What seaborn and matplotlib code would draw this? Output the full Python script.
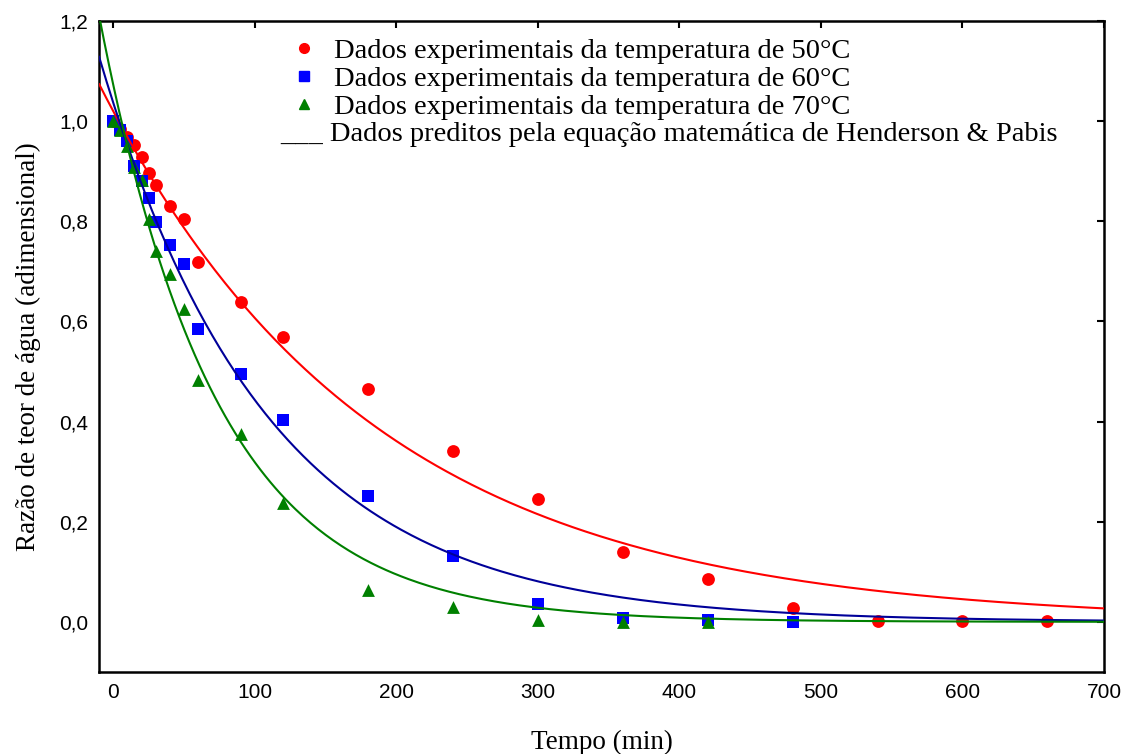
import numpy as np
import pandas as pd
import matplotlib
matplotlib.use("Agg")
import matplotlib.pyplot as plt
from matplotlib.lines import Line2D
from matplotlib.ticker import FuncFormatter
import seaborn as sns

# ------------------------------------------------------------------
# DADOS
# ------------------------------------------------------------------
TEMPO_50 = [0, 5, 10, 15, 20, 25, 30, 40, 50, 60, 90, 120, 180, 240, 300, 360, 420, 480, 540, 600, 660]
RU_50 = [1.0, 0.985, 0.968, 0.953, 0.929, 0.896, 0.872, 0.830, 0.804, 0.719, 0.638, 0.569,
         0.465, 0.342, 0.246, 0.139, 0.085, 0.028, 0.002, 0.002, 0.002]

TEMPO_60 = [0, 5, 10, 15, 20, 25, 30, 40, 50, 60, 90, 120, 180, 240, 300, 360, 420, 480]
RU_60 = [1.0, 0.983, 0.960, 0.911, 0.881, 0.846, 0.799, 0.753, 0.715, 0.584, 0.496, 0.404,
         0.251, 0.132, 0.035, 0.008, 0.004, 0.0]

TEMPO_70 = [0, 5, 10, 15, 20, 25, 30, 40, 50, 60, 90, 120, 180, 240, 300, 360, 420]
RU_70 = [1.0, 0.982, 0.950, 0.908, 0.882, 0.805, 0.741, 0.694, 0.624, 0.484, 0.375, 0.237,
         0.064, 0.029, 0.003, 0.0, 0.0]

# Henderson & Pabis: RU = a * exp(-k * t)
TEMPERATURAS = ["50", "60", "70"]
COEF_A = [1.020, 1.037, 1.073]
COEF_K = [0.00519, 0.00850, 0.01213]

Y_TICKS = [0.0, 0.2, 0.4, 0.6, 0.8, 1.0, 1.2]
X_TICKS = [0, 100, 200, 300, 400, 500, 600, 700]

COR_PONTO = {"50": "#ff0000", "60": "#0000ff", "70": "#008000"}
COR_LINHA = {"50": "#ff0000", "60": "#000099", "70": "#008000"}
MARCADOR = {"50": "o", "60": "s", "70": "^"}

# ------------------------------------------------------------------
# TABELAS
# ------------------------------------------------------------------
exp_df = pd.concat([
    pd.DataFrame({"tempo": TEMPO_50, "ru": RU_50, "temp": "50"}),
    pd.DataFrame({"tempo": TEMPO_60, "ru": RU_60, "temp": "60"}),
    pd.DataFrame({"tempo": TEMPO_70, "ru": RU_70, "temp": "70"}),
], ignore_index=True)

t_mod = np.linspace(-10, 700, 400)
mod_df = pd.concat([
    pd.DataFrame({"tempo": t_mod, "ru": a * np.exp(-k * t_mod), "temp": temp})
    for temp, a, k in zip(TEMPERATURAS, COEF_A, COEF_K)
], ignore_index=True)

# ------------------------------------------------------------------
# GRÁFICO
# ------------------------------------------------------------------
sns.set_theme(style="white")
plt.rcParams["font.family"] = ["Liberation Sans", "DejaVu Sans"]
plt.rcParams["text.color"] = "black"
plt.rcParams["axes.labelcolor"] = "black"

fig = plt.figure(figsize=(11.28, 7.54), dpi=100)
ax = fig.add_axes([0.0878, 0.1088, 0.8909, 0.8634])

for temp in TEMPERATURAS:
    sns.scatterplot(data=exp_df[exp_df["temp"] == temp], x="tempo", y="ru",
                    marker=MARCADOR[temp], color=COR_PONTO[temp], s=85,
                    linewidth=0, ax=ax, zorder=2, legend=False)

sns.lineplot(data=mod_df, x="tempo", y="ru", hue="temp", palette=COR_LINHA,
             linewidth=1.5, ax=ax, legend=False, zorder=3, sort=False)

ax.set_xlim(-10, 700)
ax.set_ylim(-0.1, 1.2)
ax.set_xticks(X_TICKS)
ax.set_yticks(Y_TICKS)
ax.yaxis.set_major_formatter(FuncFormatter(lambda v, p: f"{v:.1f}".replace(".", ",")))

ax.tick_params(direction="in", top=True, right=True, length=5, width=1.5,
               labelsize=15, colors="black", pad=8)
for sp in ax.spines.values():
    sp.set_color("black")
    sp.set_linewidth(1.8)

serif = ["Liberation Serif", "DejaVu Serif"]
ax.set_xlabel("Tempo (min)", fontsize=19.5, family=serif, labelpad=20)
ax.set_ylabel("Razão de teor de água (adimensional)", fontsize=19.5, family=serif, labelpad=13)

handles = [Line2D([], [], linestyle="none", marker=MARCADOR[t], color=COR_PONTO[t],
                  markersize=7) for t in TEMPERATURAS]
labels = [f"Dados experimentais da temperatura de {t}°C" for t in TEMPERATURAS]
leg = ax.legend(handles, labels, loc="upper left", bbox_to_anchor=(0.19, 0.974),
                frameon=False, handlelength=1.0, handletextpad=0.55, labelspacing=0.07,
                borderaxespad=0, borderpad=0, prop={"family": serif, "size": 20.5})
ax.text(0.180, 0.826, "___ Dados preditos pela equação matemática de Henderson & Pabis",
        transform=ax.transAxes, va="center", ha="left", family=serif, fontsize=20.5)

fig.savefig("out.png", dpi=100)
plt.close(fig)
